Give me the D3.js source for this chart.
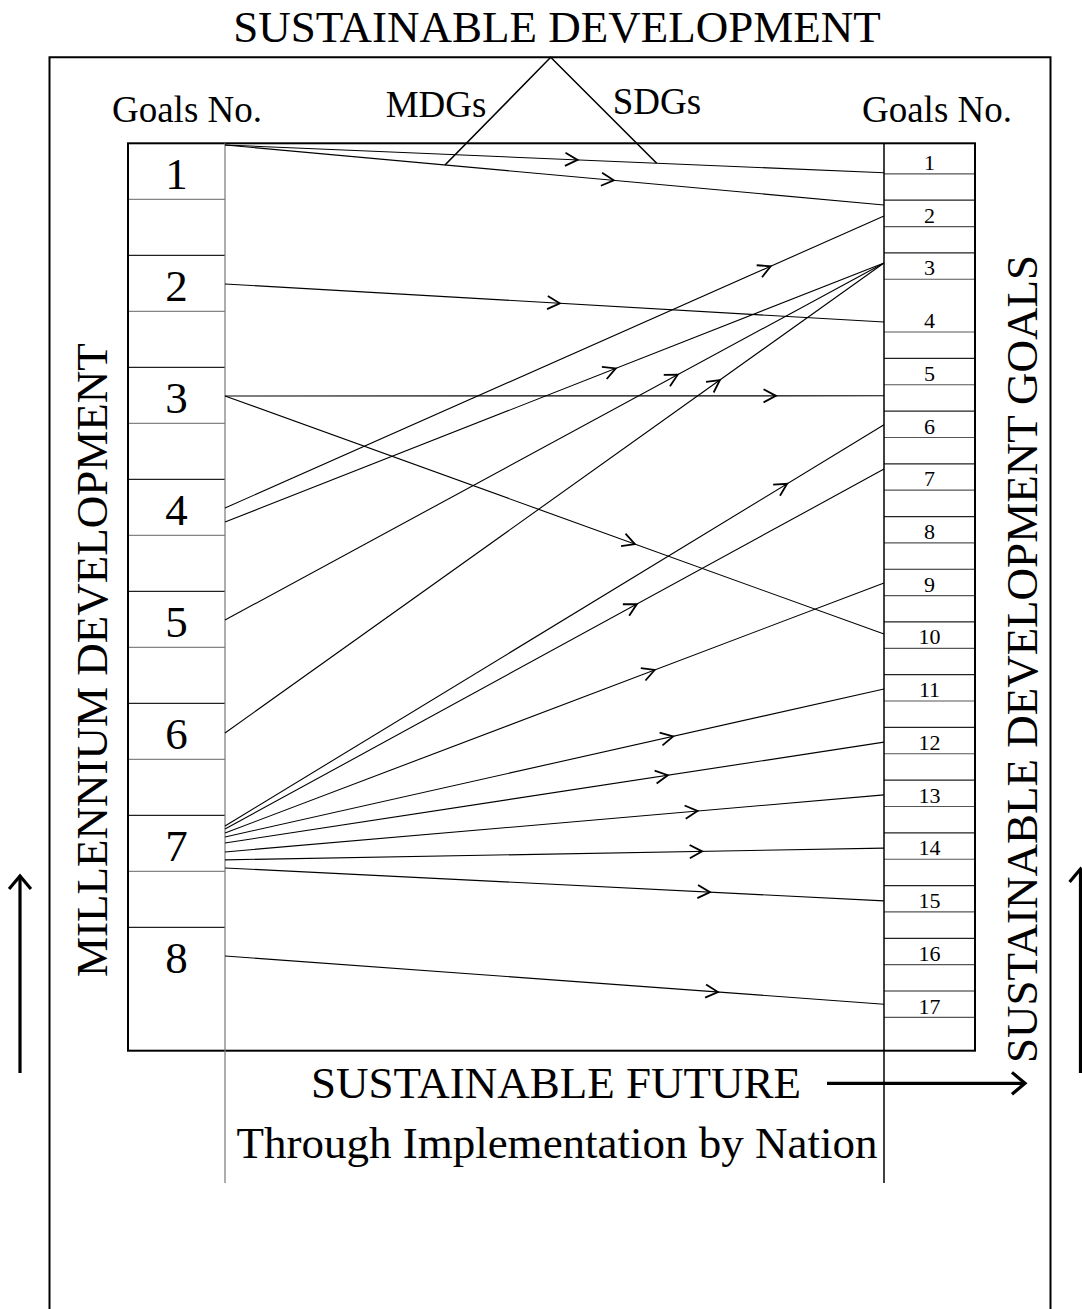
<!DOCTYPE html>
<html>
<head>
<meta charset="utf-8">
<script src="https://cdn.jsdelivr.net/npm/d3@7"></script>
<style>
  html, body { margin: 0; padding: 0; background: #fff; }
  svg { display: block; }
  text { font-family: "Liberation Serif", "Times New Roman", serif; fill: #000; }
</style>
</head>
<body>
<svg id="chart" width="1082" height="1309"></svg>
<script>
// ---------------- data ----------------
const mdgGoals = [1, 2, 3, 4, 5, 6, 7, 8];
const sdgGoals = [1, 2, 3, 4, 5, 6, 7, 8, 9, 10, 11, 12, 13, 14, 15, 16, 17];
// links MDG -> SDG
const linkFrom = [1, 1, 2, 3, 3, 4, 4, 5, 6, 7, 7, 7, 7, 7, 7, 7, 7, 8];
const linkTo   = [1, 2, 4, 5, 10, 2, 3, 3, 3, 6, 7, 9, 11, 12, 13, 14, 15, 17];
// attachment points, expressed in goal units (goal number + fraction inside its block)
const linkFromPos = [1.015, 1.015, 2.256, 3.256, 3.256, 4.256, 4.381, 5.256, 6.265,
                     7.096, 7.123, 7.158, 7.194, 7.247, 7.327, 7.398, 7.470, 8.256];
const linkToPos   = [1.48, 2.09, 4.31, 5.71, 10.23, 2.30, 3.19, 3.19, 3.19,
                     6.26, 7.10, 9.26, 11.27, 12.28, 13.28, 14.29, 15.29, 17.25];
// where the arrowhead sits along each link (0 = MDG side, 1 = SDG side)
const arrowAt = [0.535, 0.59, 0.508, 0.836, 0.622, 0.828, 0.593, 0.687, 0.751,
                 0.853, 0.625, 0.652, 0.68, 0.672, 0.717, 0.724, 0.736, 0.748];

const titleTop = "SUSTAINABLE DEVELOPMENT";
const leftHeader = "Goals No.";
const rightHeader = "Goals No.";
const mdgLabel = "MDGs";
const sdgLabel = "SDGs";
const leftTitle = "MILLENNIUM DEVELOPMENT";
const rightTitle = "SUSTAINABLE DEVELOPMENT GOALS";
const bottomTitle = "SUSTAINABLE FUTURE";
const bottomSub = "Through Implementation by Nation";

// ---------------- layout ----------------
const svg = d3.select("#chart");
const boxL = 128, boxR = 975, boxT = 143.3, boxB = 1050.7;
const colL = 225, colR = 884;
const mdgY = d3.scaleLinear().domain([1, 9]).range([143.3, 1039.3]);
const sdgY = d3.scaleLinear().domain([1, 17]).range([147.5, 991]);
const tX = d3.scaleLinear().domain([0, 1]).range([colL, colR]);
const mdgStep = mdgY(2) - mdgY(1);
const sdgStep = sdgY(2) - sdgY(1);

// outer frame (open at bottom, continues past the page)
svg.append("path")
  .attr("d", `M49.5,1320 L49.5,57.3 L1050.5,57.3 L1050.5,1320`)
  .attr("fill", "none").attr("stroke", "#000").attr("stroke-width", 2);

// title
svg.append("text").attr("x", 557).attr("y", 42).attr("text-anchor", "middle")
  .attr("font-size", 45).text(titleTop);

// headers
svg.append("text").attr("x", 187).attr("y", 122).attr("text-anchor", "middle")
  .attr("font-size", 37).text(leftHeader);
svg.append("text").attr("x", 937).attr("y", 122).attr("text-anchor", "middle")
  .attr("font-size", 37).text(rightHeader);
svg.append("text").attr("x", 436).attr("y", 117).attr("text-anchor", "middle")
  .attr("font-size", 37).text(mdgLabel);
svg.append("text").attr("x", 657).attr("y", 114).attr("text-anchor", "middle")
  .attr("font-size", 37).text(sdgLabel);

// left goal rows
const leftG = svg.append("g");
mdgGoals.forEach(k => {
  if (k > 1) leftG.append("line").attr("x1", boxL).attr("x2", colL)
    .attr("y1", mdgY(k)).attr("y2", mdgY(k)).attr("stroke", "#222").attr("stroke-width", 1.2);
  if (k < 8) leftG.append("line").attr("x1", boxL).attr("x2", colL)
    .attr("y1", mdgY(k) + mdgStep / 2).attr("y2", mdgY(k) + mdgStep / 2)
    .attr("stroke", "#666").attr("stroke-width", 1);
  leftG.append("text").attr("x", 176.5).attr("y", mdgY(k) + 46)
    .attr("text-anchor", "middle").attr("font-size", 45).text(k);
});

// right goal rows
const rightG = svg.append("g");
sdgGoals.forEach(k => {
  if (k > 1 && k !== 4) rightG.append("line").attr("x1", colR).attr("x2", boxR)
    .attr("y1", sdgY(k)).attr("y2", sdgY(k)).attr("stroke", "#222").attr("stroke-width", 1.2);
  rightG.append("line").attr("x1", colR).attr("x2", boxR)
    .attr("y1", sdgY(k) + sdgStep / 2).attr("y2", sdgY(k) + sdgStep / 2)
    .attr("stroke", "#555").attr("stroke-width", 1.1);
  rightG.append("text").attr("x", 929.5).attr("y", sdgY(k) + 22.5)
    .attr("text-anchor", "middle").attr("font-size", 22).text(k);
});

// main box
svg.append("rect").attr("x", boxL).attr("y", boxT)
  .attr("width", boxR - boxL).attr("height", boxB - boxT)
  .attr("fill", "none").attr("stroke", "#000").attr("stroke-width", 2);

// column dividers extended below the box
svg.append("line").attr("x1", colL).attr("x2", colL).attr("y1", boxT).attr("y2", 1183)
  .attr("stroke", "#777").attr("stroke-width", 1.2);
svg.append("line").attr("x1", colR).attr("x2", colR).attr("y1", boxT).attr("y2", 1183)
  .attr("stroke", "#000").attr("stroke-width", 1.5);

// links
const links = linkFrom.map((f, i) => ({
  from: f, to: linkTo[i],
  y0: mdgY(linkFromPos[i]), y1: sdgY(linkToPos[i]), t: arrowAt[i]
}));
const linkG = svg.append("g");
links.forEach(d => {
  linkG.append("line").attr("x1", tX(0)).attr("y1", d.y0)
    .attr("x2", tX(1)).attr("y2", d.y1)
    .attr("stroke", "#000").attr("stroke-width", 1.1);
  // chevron arrowhead
  const ang = Math.atan2(d.y1 - d.y0, tX(1) - tX(0));
  const tx = tX(d.t), ty = d.y0 + (d.y1 - d.y0) * d.t;
  const len = 14, spread = 28 * Math.PI / 180;
  const a1 = ang + Math.PI - spread, a2 = ang + Math.PI + spread;
  linkG.append("path")
    .attr("d", `M${tx + len * Math.cos(a1)},${ty + len * Math.sin(a1)} L${tx},${ty} L${tx + len * Math.cos(a2)},${ty + len * Math.sin(a2)}`)
    .attr("fill", "none").attr("stroke", "#000").attr("stroke-width", 1.8)
    .attr("stroke-linejoin", "miter");
});

// triangle joining MDGs / SDGs to the title
const l1 = links[1], l0 = links[0];
const legL = { x: 445, y: l1.y0 + (l1.y1 - l1.y0) * ((445 - colL) / (colR - colL)) };
const legR = { x: 656.7, y: l0.y0 + (l0.y1 - l0.y0) * ((656.7 - colL) / (colR - colL)) };
svg.append("path")
  .attr("d", `M${legL.x},${legL.y} L550.7,57.3 L${legR.x},${legR.y}`)
  .attr("fill", "none").attr("stroke", "#000").attr("stroke-width", 1.6);

// rotated side titles
svg.append("text").attr("transform", "translate(107,977) rotate(-90)")
  .attr("font-size", 45).text(leftTitle);
svg.append("text").attr("transform", "translate(1037,1063) rotate(-90)")
  .attr("font-size", 45).text(rightTitle);

// bottom texts
svg.append("text").attr("x", 556).attr("y", 1098).attr("text-anchor", "middle")
  .attr("font-size", 45).text(bottomTitle);
svg.append("text").attr("x", 557).attr("y", 1158).attr("text-anchor", "middle")
  .attr("font-size", 45).text(bottomSub);

// thick arrows
function thickArrow(x1, y1, x2, y2, head) {
  const ang = Math.atan2(y2 - y1, x2 - x1);
  const s = 40 * Math.PI / 180;
  svg.append("line").attr("x1", x1).attr("y1", y1).attr("x2", x2).attr("y2", y2)
    .attr("stroke", "#000").attr("stroke-width", 3.2);
  svg.append("path")
    .attr("d", `M${x2 + head * Math.cos(ang + Math.PI - s)},${y2 + head * Math.sin(ang + Math.PI - s)} L${x2},${y2} L${x2 + head * Math.cos(ang + Math.PI + s)},${y2 + head * Math.sin(ang + Math.PI + s)}`)
    .attr("fill", "none").attr("stroke", "#000").attr("stroke-width", 3.2)
    .attr("stroke-linejoin", "miter");
}
thickArrow(827, 1083.3, 1025, 1083.3, 17);
thickArrow(20, 1073, 20, 876, 17);
thickArrow(1080.5, 1073, 1080.5, 869, 17);
</script>
</body>
</html>
